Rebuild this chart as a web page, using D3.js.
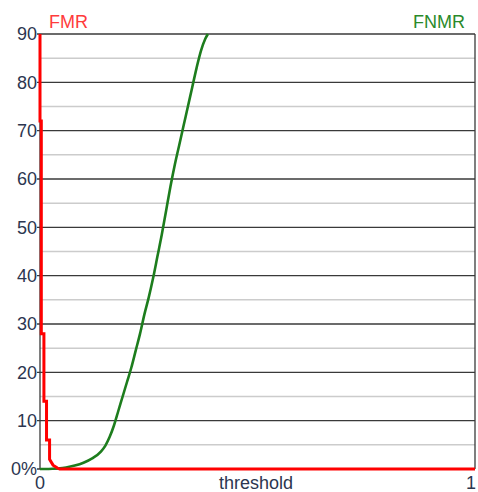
<!DOCTYPE html>
<html>
<head>
<meta charset="utf-8">
<script src="https://cdn.jsdelivr.net/npm/d3@7"></script>
<style>
  body { margin: 0; background: #fff; }
  text { font-family: "Liberation Sans", Arial, sans-serif; font-size: 18px; }
</style>
</head>
<body>
<div id="chart"></div>
<script>
// threshold / rate values
var fmrThreshold = [0, 0, 0.003, 0.003, 0.009, 0.009, 0.015, 0.015, 0.022, 0.022, 0.03, 0.04, 0.045, 1];
var fmrValues = [90, 72, 72, 28, 28, 14, 14, 6, 6, 2, 0.8, 0.2, 0, 0];

var fnmrThreshold = [0, 0.02, 0.04, 0.06, 0.08, 0.10, 0.12, 0.14, 0.15, 0.16, 0.17, 0.18, 0.19, 0.20,
  0.21, 0.22, 0.23, 0.24, 0.25, 0.26, 0.27, 0.28, 0.29, 0.30, 0.31, 0.32, 0.33, 0.34, 0.35,
  0.36, 0.37, 0.38, 0.386];
var fnmrValues = [0, 0, 0.1, 0.3, 0.7, 1.3, 2.2, 3.6, 4.8, 6.6, 9, 12, 15, 18,
  21, 24.5, 28, 32, 35.5, 39.5, 44, 48.5, 53.5, 58.5, 63, 67, 71, 75, 79,
  83, 86.5, 89, 90];

var majorTicks = [0, 10, 20, 30, 40, 50, 60, 70, 80, 90];
var minorTicks = [5, 15, 25, 35, 45, 55, 65, 75, 85];
var yTickLabels = ["0%", "10", "20", "30", "40", "50", "60", "70", "80", "90"];
var xTicks = [0, 1];
var xTickLabels = ["0", "1"];

var W = 478, H = 492;
var svg = d3.select("#chart").append("svg")
  .attr("width", W).attr("height", H);

var x = d3.scaleLinear().domain([0, 1]).range([40, 475]);
var y = d3.scaleLinear().domain([0, 90]).range([469, 34]);

// minor grid
svg.append("g").selectAll("line")
  .data(minorTicks).enter().append("line")
  .attr("x1", x(0)).attr("x2", x(1))
  .attr("y1", function(d) { return y(d); })
  .attr("y2", function(d) { return y(d); })
  .attr("stroke", "#cccccc").attr("stroke-width", 1.5);

// major grid with small tick on the left
svg.append("g").selectAll("line")
  .data(majorTicks).enter().append("line")
  .attr("x1", x(0) - 3).attr("x2", x(1))
  .attr("y1", function(d) { return y(d); })
  .attr("y2", function(d) { return y(d); })
  .attr("stroke", "#3a3a3a").attr("stroke-width", 1.3);

// left and right borders
svg.append("line")
  .attr("x1", x(0)).attr("x2", x(0)).attr("y1", y(90)).attr("y2", y(0))
  .attr("stroke", "#3a3a3a").attr("stroke-width", 1.3);
svg.append("line")
  .attr("x1", x(1)).attr("x2", x(1)).attr("y1", y(90)).attr("y2", y(0))
  .attr("stroke", "#3a3a3a").attr("stroke-width", 1.3);

// y tick labels
svg.append("g").selectAll("text")
  .data(majorTicks).enter().append("text")
  .attr("x", 37)
  .attr("y", function(d) { return y(d); })
  .attr("dy", "0.36em")
  .attr("text-anchor", "end")
  .attr("fill", "#2c3650")
  .text(function(d, i) { return yTickLabels[i]; });

// x tick labels (last one kept inside the window)
svg.append("g").selectAll("text")
  .data(xTicks).enter().append("text")
  .attr("x", function(d) { return Math.min(x(d), 471); })
  .attr("y", 489)
  .attr("text-anchor", "middle")
  .attr("fill", "#2c3650")
  .text(function(d, i) { return xTickLabels[i]; });

svg.append("text")
  .attr("x", 256).attr("y", 489)
  .attr("text-anchor", "middle")
  .attr("fill", "#2c3650")
  .text("threshold");

// series titles
svg.append("text")
  .attr("x", 49).attr("y", 28)
  .attr("fill", "#ff3b3b")
  .text("FMR");
svg.append("text")
  .attr("x", 465).attr("y", 28)
  .attr("text-anchor", "end")
  .attr("fill", "#2a8a2a")
  .text("FNMR");

var line = d3.line()
  .x(function(d) { return x(d[0]); })
  .y(function(d) { return y(d[1]); });

var smoothLine = d3.line()
  .curve(d3.curveMonotoneX)
  .x(function(d) { return x(d[0]); })
  .y(function(d) { return y(d[1]); });

var fnmrData = fnmrThreshold.map(function(t, i) { return [t, fnmrValues[i]]; });
var fmrData = fmrThreshold.map(function(t, i) { return [t, fmrValues[i]]; });

svg.append("path")
  .datum(fnmrData)
  .attr("d", smoothLine)
  .attr("fill", "none")
  .attr("stroke", "#1d7d1d")
  .attr("stroke-width", 2.6);

svg.append("path")
  .datum(fmrData)
  .attr("d", line)
  .attr("fill", "none")
  .attr("stroke", "#ff0000")
  .attr("stroke-width", 3);
</script>
</body>
</html>
